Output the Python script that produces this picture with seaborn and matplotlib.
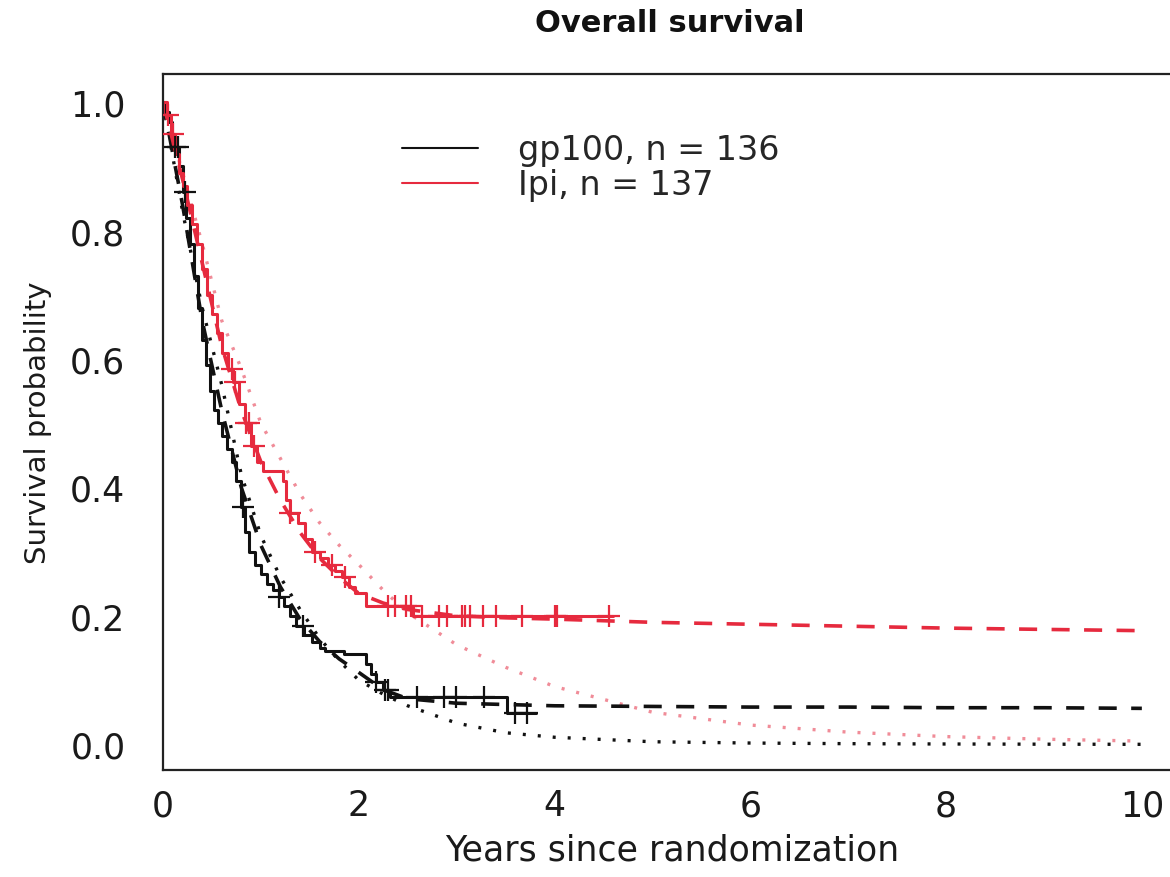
import matplotlib
matplotlib.use("Agg")
import matplotlib.pyplot as plt
from matplotlib.lines import Line2D
import numpy as np
import pandas as pd
import seaborn as sns

# Kaplan-Meier steps (years, survival)
GP100_TIME = [0.00, 0.03, 0.06, 0.09, 0.12, 0.16, 0.20, 0.24, 0.28, 0.32, 0.36, 0.40,
              0.44, 0.48, 0.52, 0.56, 0.60, 0.65, 0.70, 0.75, 0.80, 0.84, 0.88, 0.94,
              1.00, 1.06, 1.12, 1.18, 1.24, 1.30, 1.36, 1.44, 1.52, 1.60, 1.66, 1.85,
              2.07, 2.12, 2.18, 2.25, 2.32, 3.51, 3.81]
GP100_SURV = [1.00, 0.985, 0.97, 0.95, 0.93, 0.90, 0.86, 0.82, 0.78, 0.73, 0.68, 0.63,
              0.59, 0.55, 0.52, 0.50, 0.48, 0.46, 0.44, 0.41, 0.37, 0.33, 0.30, 0.28,
              0.265, 0.25, 0.24, 0.23, 0.215, 0.20, 0.185, 0.17, 0.16, 0.15, 0.145, 0.14,
              0.125, 0.11, 0.097, 0.085, 0.073, 0.048, 0.048]
GP100_CENSOR = [0.12, 0.15, 0.22, 0.82, 1.18, 1.43, 2.18, 2.27, 2.30, 2.59, 2.87, 2.99,
                3.28, 3.60, 3.72]

IPI_TIME = [0.00, 0.04, 0.08, 0.12, 0.16, 0.20, 0.25, 0.30, 0.35, 0.40, 0.45, 0.50,
            0.55, 0.60, 0.66, 0.72, 0.78, 0.84, 0.90, 0.96, 1.02, 1.23, 1.26, 1.30,
            1.38, 1.45, 1.52, 1.60, 1.69, 1.76, 1.83, 1.90, 1.96, 2.07, 2.55, 4.60]
IPI_SURV = [1.00, 0.98, 0.95, 0.92, 0.89, 0.87, 0.84, 0.81, 0.78, 0.74, 0.70, 0.67,
            0.64, 0.61, 0.585, 0.565, 0.53, 0.50, 0.465, 0.44, 0.425, 0.41, 0.38, 0.36,
            0.345, 0.32, 0.30, 0.29, 0.28, 0.27, 0.26, 0.245, 0.235, 0.215, 0.20, 0.20]
IPI_CENSOR = [0.05, 0.10, 0.70, 0.74, 0.85, 0.88, 0.93, 1.30, 1.55, 1.73, 1.86, 2.30,
              2.37, 2.48, 2.53, 2.65, 2.82, 2.90, 3.05, 3.09, 3.14, 3.27, 3.40, 3.67,
              4.00, 4.03, 4.56]

# fitted curves (dashed = cure model, dotted = no-cure model)
FIT_TIME = [0.0, 0.2, 0.4, 0.6, 0.8, 1.0, 1.2, 1.4, 1.6, 1.8, 2.0, 2.25, 2.5, 3.0,
            3.5, 4.0, 5.0, 6.0, 7.0, 8.0, 9.0, 10.0]
GP100_CURE = [1.0, 0.84, 0.66, 0.52, 0.40, 0.31, 0.245, 0.195, 0.16, 0.133, 0.112,
              0.085, 0.071, 0.064, 0.062, 0.060, 0.059, 0.058, 0.058, 0.057, 0.057, 0.056]
IPI_CURE = [1.0, 0.88, 0.75, 0.62, 0.52, 0.44, 0.38, 0.33, 0.29, 0.26, 0.235,
            0.22, 0.21, 0.20, 0.197, 0.195, 0.19, 0.187, 0.184, 0.181, 0.179, 0.177]
GP100_NOCURE = [1.0, 0.83, 0.68, 0.56, 0.42, 0.325, 0.26, 0.21, 0.165, 0.13, 0.10,
                0.078, 0.06, 0.033, 0.018, 0.011, 0.004, 0.002, 0.001, 0.0005, 0.0002, 0.0]
IPI_NOCURE = [1.0, 0.89, 0.78, 0.66, 0.585, 0.50, 0.445, 0.39, 0.345, 0.31, 0.28,
              0.24, 0.205, 0.155, 0.12, 0.09, 0.05, 0.03, 0.019, 0.012, 0.008, 0.005]

LABELS = ["gp100, n = 136", "Ipi, n = 137"]
BLACK = "#111111"
RED = "#E62A3E"
PINK = "#F08C98"


def step_value(times, surv, t):
    idx = np.searchsorted(times, t, side="right") - 1
    return np.asarray(surv)[idx]


def main() -> None:
    sns.set_theme(style="white")
    plt.rcParams["font.family"] = ["DejaVu Sans"]

    fig = plt.figure(figsize=(11.7, 8.78), dpi=100)
    ax = fig.add_axes([163 / 1170, 107 / 878, 1018 / 1170, 696 / 878])

    fits = pd.DataFrame({"t": FIT_TIME, "gp_cure": GP100_CURE, "ipi_cure": IPI_CURE,
                         "gp_nocure": GP100_NOCURE, "ipi_nocure": IPI_NOCURE})

    sns.lineplot(data=fits, x="t", y="gp_nocure", color=BLACK, lw=2.4,
                 linestyle=(0, (0.9, 3.6)), estimator=None, sort=False, ax=ax)
    sns.lineplot(data=fits, x="t", y="ipi_nocure", color=PINK, lw=2.4,
                 linestyle=(0, (0.9, 3.6)), estimator=None, sort=False, ax=ax)
    sns.lineplot(data=fits, x="t", y="gp_cure", color=BLACK, lw=2.6,
                 linestyle=(0, (5, 4)), estimator=None, sort=False, ax=ax)
    sns.lineplot(data=fits, x="t", y="ipi_cure", color=RED, lw=2.6,
                 linestyle=(0, (5, 4)), estimator=None, sort=False, ax=ax)

    sns.lineplot(x=GP100_TIME, y=GP100_SURV, drawstyle="steps-post", color=BLACK,
                 lw=2.2, estimator=None, sort=False, ax=ax)
    sns.lineplot(x=IPI_TIME, y=IPI_SURV, drawstyle="steps-post", color=RED,
                 lw=2.2, estimator=None, sort=False, ax=ax)

    gp_c = [step_value(GP100_TIME, GP100_SURV, t) for t in GP100_CENSOR]
    ipi_c = [step_value(IPI_TIME, IPI_SURV, t) for t in IPI_CENSOR]
    sns.scatterplot(x=GP100_CENSOR, y=gp_c, marker="+", s=240, color=BLACK,
                    linewidth=1.6, ax=ax, zorder=5)
    sns.scatterplot(x=IPI_CENSOR, y=ipi_c, marker="+", s=240, color=RED,
                    linewidth=1.6, ax=ax, zorder=5)

    ax.set_xlim(0, 10.4)
    ax.set_ylim(-0.04, 1.044)
    ax.set_xticks([0, 2, 4, 6, 8, 10])
    ax.set_yticks([0.0, 0.2, 0.4, 0.6, 0.8, 1.0])
    ax.set_yticklabels([f"{v:.1f}" for v in [0.0, 0.2, 0.4, 0.6, 0.8, 1.0]])
    ax.tick_params(axis="both", which="both", direction="out", length=13, width=1.5,
                   color="#222222", labelsize=25, labelcolor="#1a1a1a")
    ax.tick_params(axis="x", pad=0)
    ax.tick_params(axis="y", pad=14)
    for side in ["left", "right", "top", "bottom"]:
        ax.spines[side].set_color("#222222")
        ax.spines[side].set_linewidth(1.6)

    ax.set_xlabel("Years since randomization", fontsize=25, color="#1a1a1a")
    ax.xaxis.set_label_coords(0.5, (771 - 834) / 696)
    ax.set_ylabel("Survival probability", fontsize=21, color="#1a1a1a")
    ax.yaxis.set_label_coords((52 - 163) / 1018, 0.5)
    fig.text(670 / 1170, 1 - 24 / 878, "Overall survival", ha="center", va="center",
             fontsize=22, fontweight="bold", color="#111111")

    handles = [Line2D([], [], color=BLACK, lw=1.5), Line2D([], [], color=RED, lw=1.5)]
    ax.legend(handles, LABELS, loc="upper left", bbox_to_anchor=(0.205, 0.958),
              frameon=False, fontsize=24, handlelength=2.3, handletextpad=1.2,
              labelspacing=0.06)

    fig.savefig("out.png", dpi=100)


if __name__ == "__main__":
    main()
